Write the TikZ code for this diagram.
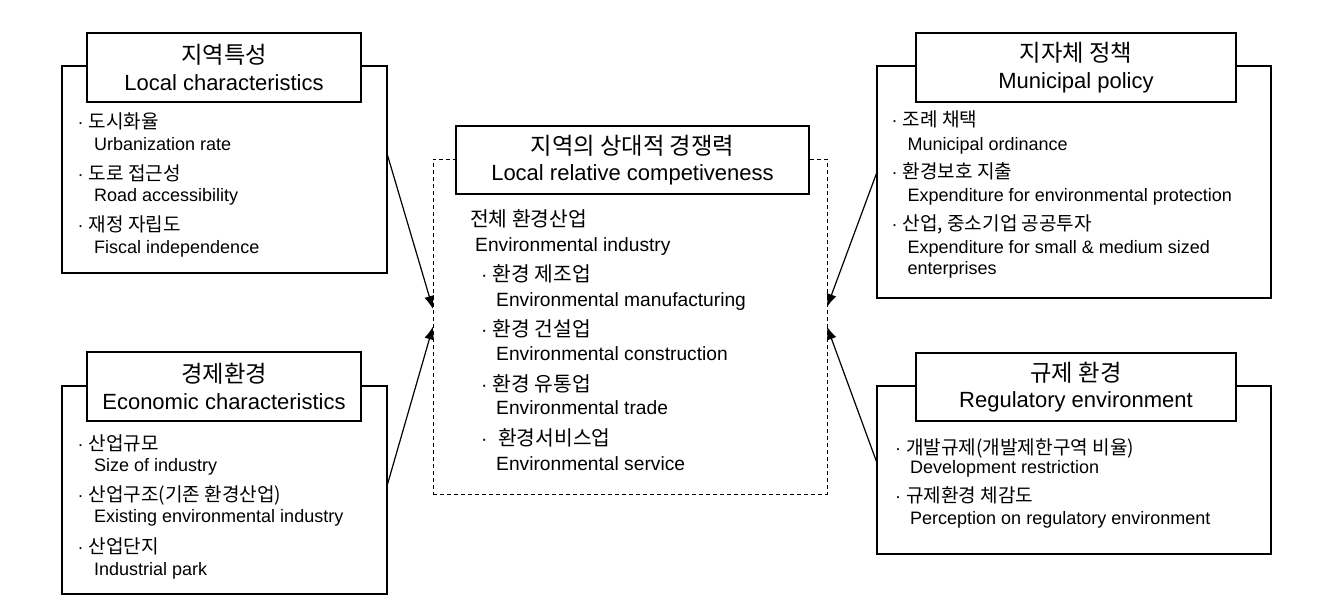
\documentclass[tikz,border=0pt]{standalone}
\usepackage{fontspec}
\setmainfont{Liberation Sans}
\newfontfamily\kr[Scale=1.06]{Noto Sans CJK KR}
\usetikzlibrary{arrows.meta}

\begin{document}
\begin{tikzpicture}[x=1pt,y=-1pt,
    box/.style={draw,line width=1.3pt,inner sep=0pt,outer sep=0pt},
    head/.style={box,fill=white,align=center,font=\fontsize{22}{26.7}\selectfont},
    txt/.style={anchor=base west,inner sep=0pt,font=\fontsize{18}{21}\selectfont},
    ctxt/.style={txt,font=\fontsize{19.2}{23}\selectfont},
    link/.style={-{Latex[length=13pt,width=10pt]},line width=1.2pt}]
    \useasboundingbox (0,0) rectangle (1327,603);

    % left side
    \node[box,minimum width=325pt,minimum height=207pt] (loc) at (224.5,169.5) {};
    \node[head,minimum width=274pt,minimum height=69pt] (lochead) at (224,67.5)
        {{\kr 지역특성}\\Local characteristics};
    \node[txt] (loc1) at (77.5,128.5) {· {\kr 도시화율}};
    \node[txt] (loc2) at (94,150) {Urbanization rate};
    \node[txt] (loc3) at (77.5,180) {· {\kr 도로 접근성}};
    \node[txt] (loc4) at (94,201.5) {Road accessibility};
    \node[txt] (loc5) at (77.5,231.5) {· {\kr 재정 자립도}};
    \node[txt] (loc6) at (94,253) {Fiscal independence};

    \node[box,minimum width=325pt,minimum height=208pt] (eco) at (224.5,490) {};
    \node[head,minimum width=274pt,minimum height=69pt] (ecohead) at (224,386.5)
        {{\kr 경제환경}\\Economic characteristics};
    \node[txt] (eco1) at (77.5,450) {· {\kr 산업규모}};
    \node[txt] (eco2) at (94,471.5) {Size of industry};
    \node[txt] (eco3) at (77.5,501.5) {· {\kr 산업구조(기존 환경산업)}};
    \node[txt] (eco4) at (94,522) {Existing environmental industry};
    \node[txt] (eco5) at (77.5,553) {· {\kr 산업단지}};
    \node[txt] (eco6) at (94,575) {Industrial park};

    % centre
    \node[box,dashed,dash pattern=on 4pt off 3pt,line width=1pt,minimum width=394pt,minimum height=335pt] (comp) at (630,326.5) {};
    \node[head,minimum width=353pt,minimum height=68pt] (comphead) at (632.5,160)
        {{\kr 지역의 상대적 경쟁력}\\Local relative competiveness};
    \node[ctxt] (comp1) at (470,226.5) {{\kr 전체 환경산업}};
    \node[ctxt] (comp2) at (475,251.5) {Environmental industry};
    \node[ctxt] (comp3) at (481,281.5) {· {\kr 환경 제조업}};
    \node[ctxt] (comp4) at (496,306) {Environmental manufacturing};
    \node[ctxt] (comp5) at (481,336.5) {· {\kr 환경 건설업}};
    \node[ctxt] (comp6) at (496,360) {Environmental construction};
    \node[ctxt] (comp7) at (481,391.5) {· {\kr 환경 유통업}};
    \node[ctxt] (comp8) at (496,414) {Environmental trade};
    \node[ctxt] (comp9) at (481,445) {·\ \ {\kr 환경서비스업}};
    \node[ctxt] (comp10) at (496,470) {Environmental service};

    % right side
    \node[box,minimum width=394pt,minimum height=232pt] (mun) at (1074,182) {};
    \node[head,minimum width=320pt,minimum height=69pt] (munhead) at (1076,67.5)
        {{\kr 지자체 정책}\\Municipal policy};
    \node[txt] (mun1) at (891.5,126.5) {· {\kr 조례 채택}};
    \node[txt] (mun2) at (907.5,150) {Municipal ordinance};
    \node[txt] (mun3) at (891.5,178) {· {\kr 환경보호 지출}};
    \node[txt] (mun4) at (907.5,201.5) {Expenditure for environmental protection};
    \node[txt] (mun5) at (891.5,230) {· {\kr 산업, 중소기업 공공투자}};
    \node[txt] (mun6) at (907.5,253) {Expenditure for small \& medium sized};
    \node[txt] (mun7) at (907.5,274) {enterprises};

    \node[box,minimum width=394pt,minimum height=168pt] (reg) at (1074,470) {};
    \node[head,minimum width=320pt,minimum height=68pt] (reghead) at (1076,387)
        {{\kr 규제 환경}\\Regulatory environment};
    \node[txt] (reg1) at (895,454.5) {· {\kr 개발규제(개발제한구역 비율)}};
    \node[txt] (reg2) at (910,473.5) {Development restriction};
    \node[txt] (reg3) at (895,502.5) {· {\kr 규제환경 체감도}};
    \node[txt] (reg4) at (910,524) {Perception on regulatory environment};

    \draw[link] ([yshift=16pt]loc.east) -- ([yshift=17.5pt]comp.west);
    \draw[link] ([yshift=4pt]eco.east) -- (comp.west);
    \draw[link] ([yshift=10pt]mun.west) -- ([yshift=19.5pt]comp.east);
    \draw[link] ([yshift=7pt]reg.west) -- (comp.east);
\end{tikzpicture}
\end{document}
